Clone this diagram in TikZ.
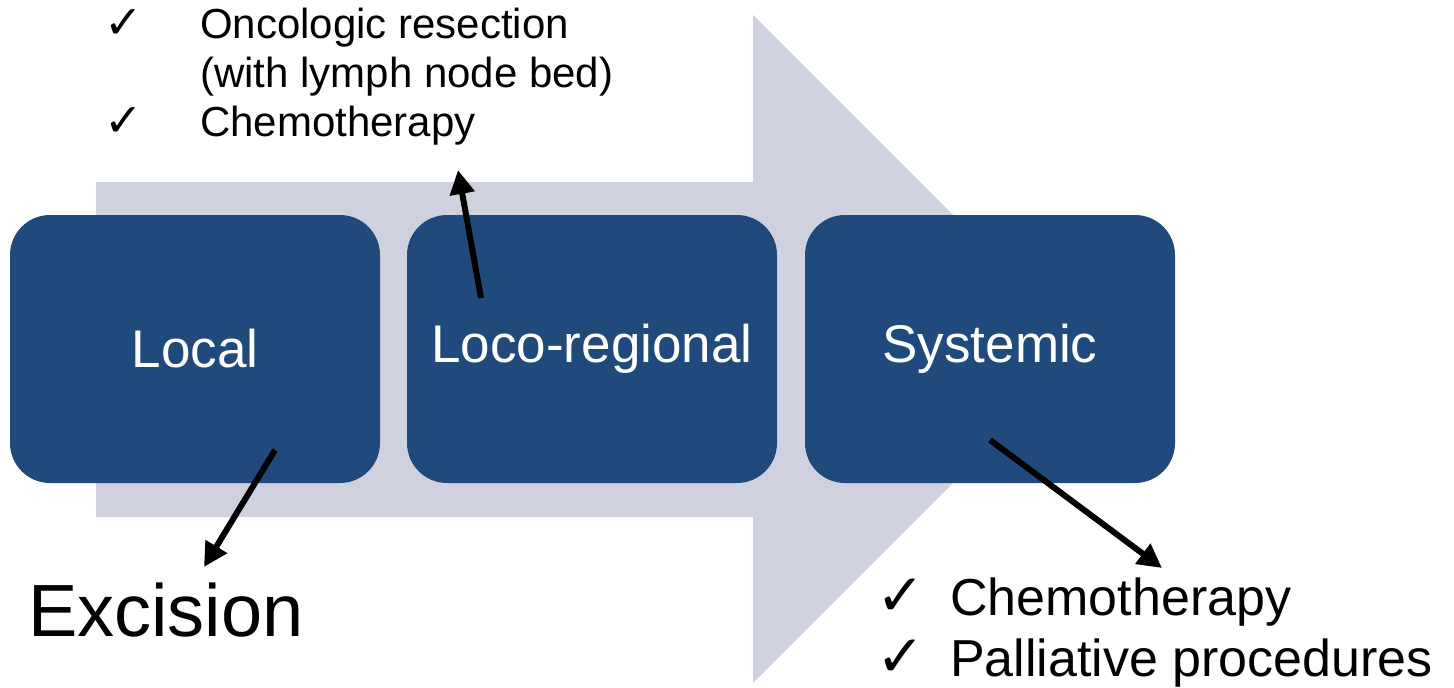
\documentclass[tikz,border=0pt]{standalone}
\usepackage{fontspec}
\setmainfont{Liberation Sans}
\newfontfamily\symfont{DejaVu Sans}
\usetikzlibrary{arrows.meta}
\definecolor{boxblue}{HTML}{214A7C}
\definecolor{arrowgrey}{HTML}{CFD2DE}
\newcommand{\chk}[1]{{\symfont\fontsize{#1}{#1}\selectfont ✓}}
\tikzset{
  stage/.style={fill=boxblue, rounded corners=40pt, minimum width=370pt, minimum height=268pt,
    inner sep=0pt, text=white, font=\fontsize{53}{60}\selectfont},
  pointer/.style={line width=6pt, black, -{Triangle[length=24pt,width=24pt]}},
  listtext/.style={inner sep=0pt, anchor=base west, align=left}
}
\begin{document}
\begin{tikzpicture}[x=1pt,y=-1pt]
\useasboundingbox (0,0) rectangle (1454,688);
% big background arrow
\fill[arrowgrey] (96,182) -- (753,182) -- (753,15) -- (1087,349) -- (753,683) -- (753,517) -- (96,517) -- cycle;
% stages
\node[stage] (local) at (195,349) {Local};
\node[stage] (loco) at (592,349) {Loco-regional};
\node[stage] (sys) at (990,349) {Systemic};
% texts
\node[listtext] (top) at (104,38) {\fontsize{42}{49}\selectfont
  \begin{tabular}[t]{@{}p{96pt}@{}l@{}}
  \chk{46} & Oncologic resection\\
  & (with lymph node bed)\\
  \chk{46} & Chemotherapy
  \end{tabular}};
\node[listtext] (exc) at (28,636) {\fontsize{74}{80}\selectfont Excision};
\node[listtext] (bot) at (876,615) {\fontsize{52}{61}\selectfont
  \begin{tabular}[t]{@{}p{74pt}@{}l@{}}
  \chk{58} & Chemotherapy\\
  \chk{58} & Palliative procedures
  \end{tabular}};
\coordinate (topTip) at (458,170);
\coordinate (excTip) at (204,567);
\coordinate (botTip) at (1162,568);
% pointers
\draw[pointer] ([shift={(-111pt,51pt)}]loco.center) -- (topTip);
\draw[pointer] ([shift={(80pt,-101pt)}]local.center) -- (excTip);
\draw[pointer] ([shift={(0pt,-91pt)}]sys.center) -- (botTip);
\end{tikzpicture}
\end{document}
